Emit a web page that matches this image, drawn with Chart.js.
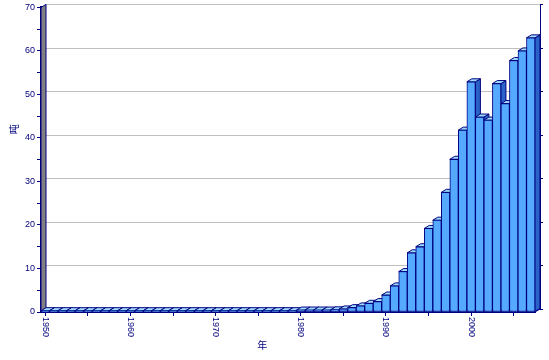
<!DOCTYPE html>
<html>
<head>
<meta charset="utf-8">
<script src="https://cdn.jsdelivr.net/npm/chart.js@4/dist/chart.umd.min.js"></script>
<style>
html,body{margin:0;padding:0;background:#fff;}
#wrap{width:549px;height:360px;position:relative;}
</style>
</head>
<body>
<div id="wrap"><canvas id="c" width="549" height="360"></canvas></div>
<script>
const years = [1950,1951,1952,1953,1954,1955,1956,1957,1958,1959,
               1960,1961,1962,1963,1964,1965,1966,1967,1968,1969,
               1970,1971,1972,1973,1974,1975,1976,1977,1978,1979,
               1980,1981,1982,1983,1984,1985,1986,1987,1988,1989,
               1990,1991,1992,1993,1994,1995,1996,1997,1998,1999,
               2000,2001,2002,2003,2004,2005,2006,2007];
const values = [0.3,0.3,0.3,0.3,0.3,0.3,0.3,0.3,0.3,0.3,
                0.3,0.3,0.3,0.3,0.3,0.3,0.3,0.3,0.3,0.3,
                0.3,0.3,0.3,0.3,0.3,0.3,0.3,0.3,0.3,0.3,
                0.45,0.45,0.45,0.45,0.5,0.7,1.0,1.4,2.0,2.4,
                3.9,6.0,9.3,13.6,15.0,19.2,21.1,27.5,35.1,41.8,
                52.9,44.8,44.1,52.5,47.9,57.8,60.0,63.0];
const yTicksMajor = [0,10,20,30,40,50,60,70];
const xLabelYears = [1950,1960,1970,1980,1990,2000];
const yTitle = '吨';
const xTitle = '年';

const NAVY = '#000080';
const DX = 5, DY = 3;

const threeD = {
  id: 'threeD',
  beforeDatasetsDraw(chart) {
    const {ctx, chartArea, scales} = chart;
    const {left, right, top, bottom} = chartArea;
    const y = scales.y;
    ctx.save();
    ctx.strokeStyle = '#c0c0c0';
    ctx.lineWidth = 1;
    yTicksMajor.forEach(v => {
      if (v === 0) return;
      const yy = Math.round(y.getPixelForValue(v) - DY) + 0.5;
      ctx.beginPath();
      ctx.moveTo(left + DX, yy);
      ctx.lineTo(right + DX, yy);
      ctx.stroke();
    });
    ctx.strokeStyle = NAVY;
    ctx.beginPath();
    ctx.moveTo(right + DX + 0.5, y.getPixelForValue(70) - DY);
    ctx.lineTo(right + DX + 0.5, bottom - DY);
    ctx.stroke();
    yTicksMajor.forEach(v => {
      const yy = Math.round(y.getPixelForValue(v) - DY) + 0.5;
      ctx.beginPath();
      ctx.moveTo(right + DX, yy);
      ctx.lineTo(right + DX + 3, yy);
      ctx.stroke();
    });
    const yt = y.getPixelForValue(70);
    ctx.fillStyle = '#808080';
    ctx.beginPath();
    ctx.moveTo(left, bottom);
    ctx.lineTo(left, yt);
    ctx.lineTo(left + DX, yt - DY);
    ctx.lineTo(left + DX, bottom - DY);
    ctx.closePath();
    ctx.fill();
    ctx.strokeStyle = NAVY;
    ctx.stroke();
    ctx.fillStyle = '#99DDFF';
    ctx.beginPath();
    ctx.moveTo(left, bottom);
    ctx.lineTo(left + DX, bottom - DY);
    ctx.lineTo(right + DX, bottom - DY);
    ctx.lineTo(right, bottom);
    ctx.closePath();
    ctx.fill();
    ctx.stroke();
    const meta = chart.getDatasetMeta(0);
    meta.data.forEach(bar => {
      const p = bar.getProps(['x','y','base','width'], true);
      const l = p.x - p.width / 2, r = p.x + p.width / 2, t = p.y, b = p.base;
      ctx.fillStyle = '#2A62C8';
      ctx.beginPath();
      ctx.moveTo(r, t); ctx.lineTo(r + DX, t - DY); ctx.lineTo(r + DX, b - DY); ctx.lineTo(r, b);
      ctx.closePath(); ctx.fill(); ctx.stroke();
      ctx.fillStyle = '#9FDDFF';
      ctx.beginPath();
      ctx.moveTo(l, t); ctx.lineTo(l + DX, t - DY); ctx.lineTo(r + DX, t - DY); ctx.lineTo(r, t);
      ctx.closePath(); ctx.fill(); ctx.stroke();
    });
    ctx.restore();
  },
  afterDraw(chart) {
    const {ctx, chartArea, scales} = chart;
    const x = scales.x;
    ctx.save();
    ctx.fillStyle = NAVY;
    ctx.font = '9px "Liberation Sans", Arial, sans-serif';
    ctx.textAlign = 'left';
    ctx.textBaseline = 'middle';
    xLabelYears.forEach(yr => {
      const idx = years.indexOf(yr);
      const px = x.getPixelForValue(idx);
      ctx.save();
      ctx.translate(px, chartArea.bottom + 5);
      ctx.rotate(Math.PI / 2);
      ctx.fillText(String(yr), 0, 0);
      ctx.restore();
    });
    // axis titles
    ctx.font = '10px "Noto Sans CJK SC", sans-serif';
    ctx.textAlign = 'center';
    ctx.textBaseline = 'middle';
    ctx.fillText(xTitle, chartArea.left + (chartArea.right - chartArea.left) * 0.448, chartArea.bottom + 33);
    ctx.save();
    ctx.translate(chartArea.left - 27, chartArea.top + (chartArea.bottom - chartArea.top) * 0.40);
    ctx.rotate(-Math.PI / 2);
    ctx.fillText(yTitle, 0, 0);
    ctx.restore();
    ctx.restore();
  }
};

new Chart(document.getElementById('c'), {
  type: 'bar',
  data: {
    labels: years,
    datasets: [{
      data: values,
      backgroundColor: '#55AAFF',
      borderColor: NAVY,
      borderWidth: 1,
      borderSkipped: false,
      barPercentage: 1,
      categoryPercentage: 1
    }]
  },
  options: {
    responsive: false,
    animation: false,
    layout: { padding: { left: 4, right: 14, top: 7, bottom: 6 } },
    plugins: { legend: { display: false }, tooltip: { enabled: false } },
    scales: {
      x: {
        type: 'category',
        offset: true,
        grid: {
          offset: false,
          drawOnChartArea: false,
          drawTicks: true,
          tickLength: 4,
          color: (ctx) => {
            const yr = years[ctx.index];
            return (yr !== undefined && yr % 5 === 0) ? NAVY : 'rgba(0,0,0,0)';
          }
        },
        border: { color: NAVY, width: 2 },
        ticks: {
          autoSkip: false,
          maxRotation: 0,
          minRotation: 0,
          color: 'rgba(0,0,0,0)',
          font: { size: 9 },
          callback: () => ''
        },
        afterFit: (s) => { s.height = 42; }
      },
      y: {
        min: 0,
        max: 70,
        grid: {
          drawOnChartArea: false,
          drawTicks: true,
          tickLength: 4,
          color: NAVY
        },
        border: { color: NAVY, width: 2 },
        ticks: {
          stepSize: 5,
          padding: 2,
          color: NAVY,
          font: { size: 9, family: '"Liberation Sans", Arial, sans-serif' },
          callback: (v) => (v % 10 === 0 ? v : '')
        },
        afterFit: (s) => { s.width = 37; }
      }
    }
  },
  plugins: [threeD]
});
</script>
</body>
</html>
